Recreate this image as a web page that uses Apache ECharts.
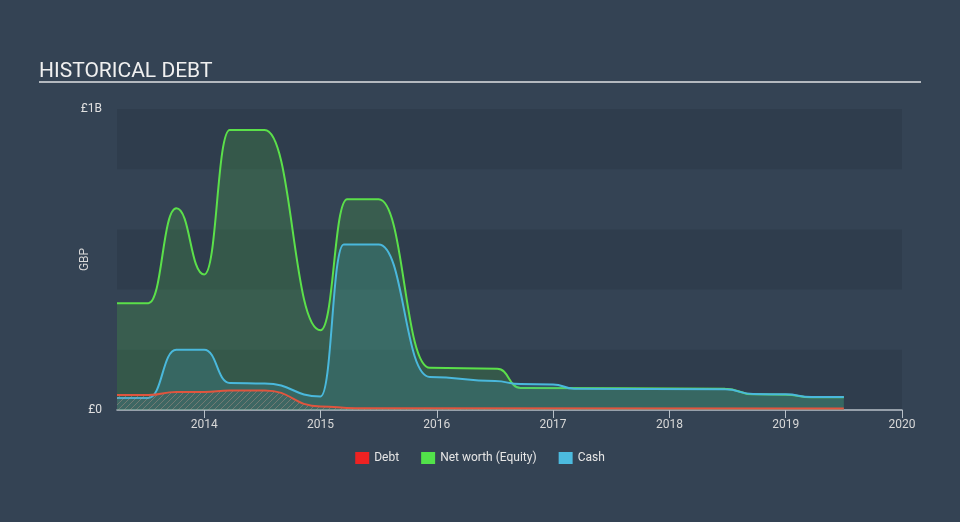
<!DOCTYPE html>
<html>
<head>
<meta charset="utf-8">
<script src="https://cdn.jsdelivr.net/npm/echarts@6/dist/echarts.min.js"></script>
<style>html,body{margin:0;padding:0;background:#344354;}#c{width:960px;height:522px;}</style>
</head>
<body>
<div id="c"></div>
<script>
// Data (values in GBP)
const netYears  = [2013.25, 2013.52, 2013.76, 2014.0, 2014.22, 2014.52, 2015.0, 2015.23, 2015.5, 2015.94, 2016.52, 2016.72, 2018.48, 2018.72, 2019.0, 2019.22, 2019.5];
const netValues = [0.355e9, 0.355e9, 0.67e9, 0.45e9, 0.93e9, 0.93e9, 0.265e9, 0.70e9, 0.70e9, 0.14e9, 0.137e9, 0.073e9, 0.071e9, 0.052e9, 0.051e9, 0.042e9, 0.042e9];

const cashYears  = [2013.25, 2013.52, 2013.76, 2014.0, 2014.22, 2014.52, 2015.0, 2015.2, 2015.5, 2015.94, 2016.5, 2016.72, 2017.0, 2017.18, 2018.48, 2018.72, 2019.0, 2019.22, 2019.5];
const cashValues = [0.04e9, 0.04e9, 0.20e9, 0.20e9, 0.09e9, 0.088e9, 0.045e9, 0.55e9, 0.55e9, 0.11e9, 0.096e9, 0.086e9, 0.085e9, 0.071e9, 0.069e9, 0.053e9, 0.052e9, 0.043e9, 0.043e9];

const debtYears  = [2013.25, 2013.52, 2013.76, 2014.0, 2014.22, 2014.52, 2015.0, 2015.3, 2019.5];
const debtValues = [0.05e9, 0.05e9, 0.06e9, 0.06e9, 0.065e9, 0.065e9, 0.012e9, 0.006e9, 0.005e9];

const yearTicks = [2014, 2015, 2016, 2017, 2018, 2019, 2020];
const yTickLabels = {0: '£0', 1000000000: '£1B'};

function pairs(xs, ys){ return xs.map((x,i)=>[x, ys[i]]); }

// hatch pattern for debt area
const pc = document.createElement('canvas');
pc.width = 6; pc.height = 6;
const pctx = pc.getContext('2d');
pctx.fillStyle = 'rgba(110,110,110,0.22)';
pctx.fillRect(0,0,6,6);
pctx.strokeStyle = 'rgba(190,150,140,0.6)';
pctx.lineWidth = 1;
pctx.beginPath();
pctx.moveTo(0,6); pctx.lineTo(6,0);
pctx.moveTo(-3,3); pctx.lineTo(3,-3);
pctx.moveTo(3,9); pctx.lineTo(9,3);
pctx.stroke();

const chart = echarts.init(document.getElementById('c'), null, {renderer:'canvas'});
chart.setOption({
  backgroundColor: '#344354',
  animation: false,
  title: {
    text: 'HISTORICAL DEBT', left: 34, top: 56,
    textStyle: {color: '#f0f0f0', fontSize: 21, fontWeight: 'normal', fontFamily: 'Roboto'}
  },
  graphic: [{
    type: 'line', shape: {x1: 39, y1: 82, x2: 921, y2: 82},
    style: {stroke: '#b4b9bf', lineWidth: 2}
  }],
  legend: {
    bottom: 53, left: 'center',
    itemWidth: 14, itemHeight: 12, itemGap: 22,
    icon: 'rect',
    textStyle: {color: '#e6e6e6', fontSize: 12, fontFamily: 'Roboto'},
    data: ['Debt', 'Net worth (Equity)', 'Cash']
  },
  grid: {left: 117, right: 58, top: 109, bottom: 112, containLabel: false},
  xAxis: {
    type: 'value', min: 2013.25, max: 2020,
    axisLine: {show: true, lineStyle: {color: '#b8c0c8', width: 1.5}},
    axisTick: {show: true, length: 8, customValues: yearTicks, lineStyle: {color: '#b8c0c8'}},
    axisLabel: {customValues: yearTicks, color: '#d8d8d8', fontSize: 12, margin: 9, fontFamily: 'Roboto',
      formatter: v => String(Math.round(v))},
    splitLine: {show: false}
  },
  yAxis: {
    type: 'value', min: 0, max: 1e9, interval: 0.2e9,
    name: 'GBP', nameLocation: 'middle', nameGap: 26, nameMoveOverlap: false,
    nameTextStyle: {color: '#d8d8d8', fontSize: 12, fontFamily: 'Roboto'},
    axisLine: {show: false}, axisTick: {show: false},
    axisLabel: {color: '#e0e0e0', fontSize: 12, margin: 15, fontFamily: 'Roboto',
      formatter: v => yTickLabels[v] !== undefined ? yTickLabels[v] : ''},
    splitLine: {show: false},
    splitArea: {show: true, areaStyle: {color: ['rgba(0,0,0,0.08)', 'rgba(0,0,0,0)']}}
  },
  series: [
    {
      name: 'Net worth (Equity)', type: 'line', data: pairs(netYears, netValues),
      smooth: 0.5, smoothMonotone: 'x', symbol: 'none', z: 2,
      lineStyle: {color: '#5be04a', width: 2},
      itemStyle: {color: '#52e24a'},
      areaStyle: {color: 'rgba(72,180,64,0.33)'}
    },
    {
      name: 'Cash', type: 'line', data: pairs(cashYears, cashValues),
      smooth: 0.5, smoothMonotone: 'x', symbol: 'none', z: 3,
      lineStyle: {color: '#4ab8dc', width: 2},
      itemStyle: {color: '#4cbbdf'},
      areaStyle: {color: 'rgba(68,161,191,0.3)'}
    },
    {
      name: 'Debt', type: 'line', data: pairs(debtYears, debtValues),
      smooth: 0.5, smoothMonotone: 'x', symbol: 'none', z: 4,
      lineStyle: {color: '#e0553e', width: 2},
      itemStyle: {color: '#ee2222'},
      areaStyle: {color: {image: pc, repeat: 'repeat'}}
    }
  ]
});
</script>
</body>
</html>
